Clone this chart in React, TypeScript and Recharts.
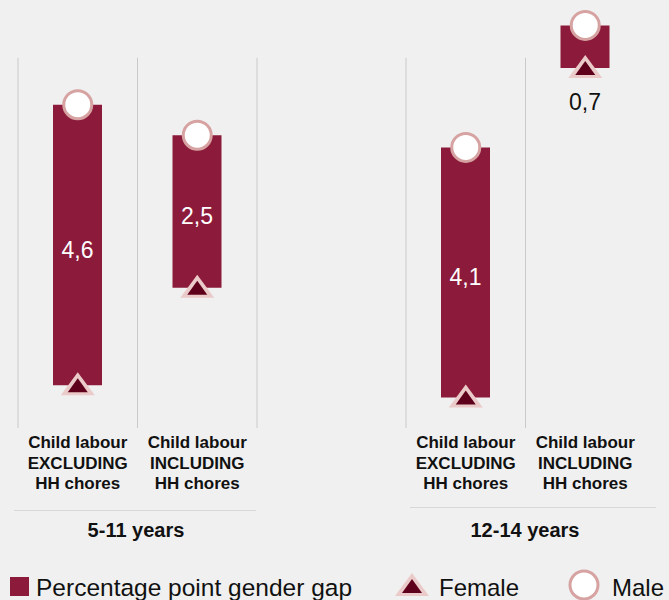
import { ComposedChart, Bar, Line, XAxis, YAxis, ReferenceLine, LabelList } from "recharts";

const categories = ["Child labour\nEXCLUDING\nHH chores", "Child labour\nINCLUDING\nHH chores"];
const groups = ["5-11 years", "12-14 years"];

const female511 = [0.7, 2.3];
const male511 = [5.3, 4.8];
const gap511 = [4.6, 2.5];

const female1214 = [0.5, 5.9];
const male1214 = [4.6, 6.6];
const gap1214 = [4.1, 0.7];

// column separators (in slot units) for each panel
const grid511 = [0, 1, 2];
const grid1214 = [0, 1];
const GRID_TOP = 6.07;

const BAR = "#8c1a3a";
const TRI_OUT = "#ebcaca";
const TRI_IN = "#5e001c";
const RING = "#d6a3a2";
const BG = "#f0f0f0";
const FONT = "'Liberation Sans', Arial, Helvetica, sans-serif";

const fmt = (v: number) => String(v).replace(".", ",");

/* ── markers ─────────────────────────────────────────── */
function Tri({ cx, cy }: { cx: number; cy: number }) {
  return (
    <g>
      <polygon points={`${cx},${cy - 13} ${cx - 17},${cy + 10} ${cx + 17},${cy + 10}`} fill={TRI_OUT} />
      <polygon points={`${cx},${cy - 7} ${cx - 10},${cy + 7} ${cx + 10},${cy + 7}`} fill={TRI_IN} />
    </g>
  );
}

function Ring({ cx, cy }: { cx: number; cy: number }) {
  return <circle cx={cx} cy={cy} r={14} fill="#fff" stroke={RING} strokeWidth={3} />;
}

function CatTick(props: any) {
  const { x, y, payload } = props;
  const label = categories[Math.floor(payload.value)] ?? "";
  const lines = label.split("\n");
  return (
    <text x={x} y={y} textAnchor="middle" fontFamily={FONT} fontSize={17} fontWeight="bold" fill="#111">
      {lines.map((l, i) => (
        <tspan key={i} x={x} y={y + 20 + i * 20.7}>
          {l}
        </tspan>
      ))}
    </text>
  );
}

function GapLabel(props: any) {
  const { x, y, width, height, value } = props;
  const top = Math.min(y, y + height);
  const h = Math.abs(height);
  const cx = x + width / 2;
  if (h < 60) {
    return (
      <text x={cx} y={top + h + 42} textAnchor="middle" fontFamily={FONT} fontSize={23} fill="#111">
        {fmt(value)}
      </text>
    );
  }
  return (
    <text x={cx} y={top + h / 2 + 5} dominantBaseline="central" textAnchor="middle" fontFamily={FONT} fontSize={23} fill="#fff">
      {fmt(value)}
    </text>
  );
}

function Panel({ female, male, gap, grid }: { female: number[]; male: number[]; gap: number[]; grid: number[] }) {
  const data = categories.map((cat, i) => ({
    slot: i + 0.5,
    female: female[i],
    male: male[i],
    range: [female[i], male[i]],
    gap: gap[i],
  }));
  return (
    <ComposedChart width={270} height={508} data={data} margin={{ top: 1, right: 14, bottom: 0, left: 17 }}>
      <XAxis
        dataKey="slot"
        type="number"
        domain={[0, 2]}
        ticks={[0.5, 1.5]}
        height={80}
        axisLine={false}
        tickLine={false}
        tickSize={0}
        tickMargin={0}
        interval={0}
        tick={<CatTick />}
      />
      <YAxis hide domain={[0, 7]} />
      {grid.map((g) => (
        <ReferenceLine key={g} segment={[{ x: g, y: 0 }, { x: g, y: GRID_TOP }]} stroke="#cacaca" strokeWidth={1} />
      ))}
      <Bar dataKey="range" barSize={49} fill={BAR} isAnimationActive={false}>
        <LabelList dataKey="gap" content={<GapLabel />} />
      </Bar>
      <Line
        dataKey="female"
        stroke="none"
        isAnimationActive={false}
        activeDot={false}
        dot={(p: any) => <Tri key={`f${p.index}`} cx={p.cx} cy={p.cy} />}
      />
      <Line
        dataKey="male"
        stroke="none"
        isAnimationActive={false}
        activeDot={false}
        dot={(p: any) => <Ring key={`m${p.index}`} cx={p.cx} cy={p.cy} />}
      />
    </ComposedChart>
  );
}

export default function App() {
  return (
    <div style={{ position: "absolute", left: 0, top: 0, width: 669, height: 600, background: BG, overflow: "hidden", fontFamily: FONT }}>
      <div style={{ position: "absolute", left: 1, top: 0 }}>
        <Panel female={female511} male={male511} gap={gap511} grid={grid511} />
      </div>
      <div style={{ position: "absolute", left: 389, top: 0 }}>
        <Panel female={female1214} male={male1214} gap={gap1214} grid={grid1214} />
      </div>
      <svg width={669} height={600} style={{ position: "absolute", left: 0, top: 0, pointerEvents: "none" }}>
        <line x1={14} x2={256} y1={510.5} y2={510.5} stroke="#d8d8d8" />
        <line x1={410} x2={656} y1={507.5} y2={507.5} stroke="#d8d8d8" />
        <text x={136} y={537} textAnchor="middle" fontFamily={FONT} fontSize={20} fontWeight="bold" fill="#111">
          {groups[0]}
        </text>
        <text x={525} y={537} textAnchor="middle" fontFamily={FONT} fontSize={20} fontWeight="bold" fill="#111">
          {groups[1]}
        </text>

        <rect x={10} y={577} width={19} height={19} fill={BAR} />
        <text x={36} y={596} fontFamily={FONT} fontSize={24.5} fill="#111">
          Percentage point gender gap
        </text>
        <Tri cx={412} cy={586} />
        <text x={439} y={596} fontFamily={FONT} fontSize={24} fill="#111">
          Female
        </text>
        <Ring cx={584} cy={585} />
        <text x={612} y={596} fontFamily={FONT} fontSize={24} fill="#111">
          Male
        </text>
      </svg>
    </div>
  );
}
